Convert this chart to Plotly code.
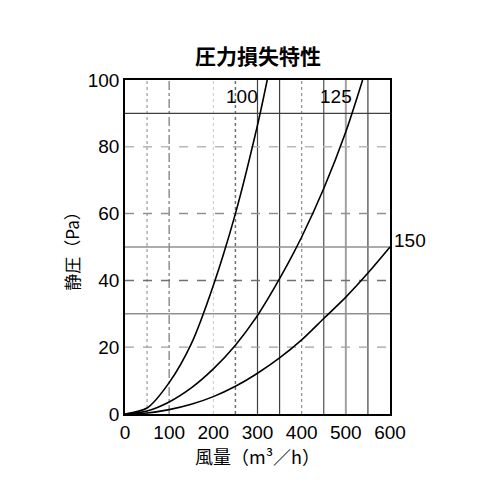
import plotly.graph_objects as go

# --- data ---
q100 = [0, 50, 100, 150, 200, 250, 300, 322]
p100 = [0, 1.8, 9.4, 21, 38.5, 60, 86.5, 100]

q125 = [0, 50, 100, 150, 200, 250, 300, 350, 400, 450, 500, 538]
p125 = [0, 0.9, 3.6, 7.8, 13.5, 20.6, 29.5, 40.5, 53, 67.5, 84.5, 100]

q150 = [0, 50, 100, 150, 200, 250, 300, 350, 400, 450, 500, 550, 600]
p150 = [0, 0.3, 1.3, 2.9, 5.2, 8.3, 12.2, 16.8, 22.2, 28.6, 35, 42.2, 50]

curve_labels = ["100", "125", "150"]
label_x = [264, 478, 600]
label_y = [95, 95, 52]

x_ticks = [0, 100, 200, 300, 400, 500, 600]
y_ticks = [0, 20, 40, 60, 80, 100]

# grid lines: (value, colour, dash, width)
v_grid = [
    (50, "#b0b0b0", "dot", 1.5),
    (100, "#909090", "dashdot", 1.5),
    (200, "#c8c8c8", "dot", 1),
    (250, "#707070", "dot", 1.5),
    (300, "#404040", "solid", 1.2),
    (350, "#404040", "solid", 1.2),
    (400, "#909090", "dot", 1.2),
    (450, "#505050", "solid", 1.2),
    (500, "#a0a0a0", "solid", 2),
    (550, "#404040", "solid", 1.2),
]
h_grid = [
    (20, "#a0a0a0", "dash", 1.2),
    (30, "#909090", "solid", 1.5),
    (40, "#707070", "dash", 1.5),
    (50, "#909090", "solid", 1.5),
    (60, "#909090", "dash", 1.5),
    (80, "#b8b8b8", "dash", 1.5),
    (90, "#404040", "solid", 1.2),
]

FONT = "Liberation Sans, Noto Sans CJK JP, sans-serif"
CJK = "Noto Sans CJK JP"

fig = go.Figure()
for q, p in [(q100, p100), (q125, p125), (q150, p150)]:
    fig.add_trace(go.Scatter(x=q, y=p, mode="lines",
                             line=dict(color="black", width=1.6, shape="spline", smoothing=0.8),
                             showlegend=False, hoverinfo="skip"))

shapes = []
for v, c, d, w in v_grid:
    shapes.append(dict(type="line", xref="x", yref="y", x0=v, x1=v, y0=0, y1=100,
                       line=dict(color=c, dash=d, width=w), layer="below"))
for v, c, d, w in h_grid:
    shapes.append(dict(type="line", xref="x", yref="y", x0=0, x1=600, y0=v, y1=v,
                       line=dict(color=c, dash=d, width=w), layer="below"))

annotations = []
for i, (t, x, y) in enumerate(zip(curve_labels, label_x, label_y)):
    a = dict(text=t, x=x, y=y, xref="x", yref="y", showarrow=False,
             font=dict(family=FONT, size=19, color="black"))
    if i == 2:
        a.update(xanchor="left", xshift=2)
    annotations.append(a)

fig.update_layout(
    width=500, height=500,
    margin=dict(l=117, r=118, t=72, b=94),
    paper_bgcolor="white", plot_bgcolor="white",
    title=dict(text="<b>圧力損失特性</b>", x=0.5, xanchor="center", y=0.902, yanchor="middle",
               font=dict(family=CJK, size=21, color="black")),
    shapes=shapes,
    annotations=annotations,
    xaxis=dict(range=[0, 600], tickvals=x_ticks, showgrid=False, zeroline=False,
               showline=True, linecolor="black", linewidth=1.5, mirror=True, automargin=False,
               ticks="", tickfont=dict(family=FONT, size=19, color="black"),
               title=dict(text="風量（m³／h）", standoff=2,
                          font=dict(family=CJK, size=18, color="black"))),
    yaxis=dict(range=[0, 100], tickvals=y_ticks, showgrid=False, zeroline=False,
               showline=True, linecolor="black", linewidth=1.5, mirror=True, automargin=False,
               ticks="", tickfont=dict(family=FONT, size=19, color="black"),
               title=dict(text="静圧（Pa）", standoff=4,
                          font=dict(family=CJK, size=17, color="black"))),
)

fig.write_html("out.html")
